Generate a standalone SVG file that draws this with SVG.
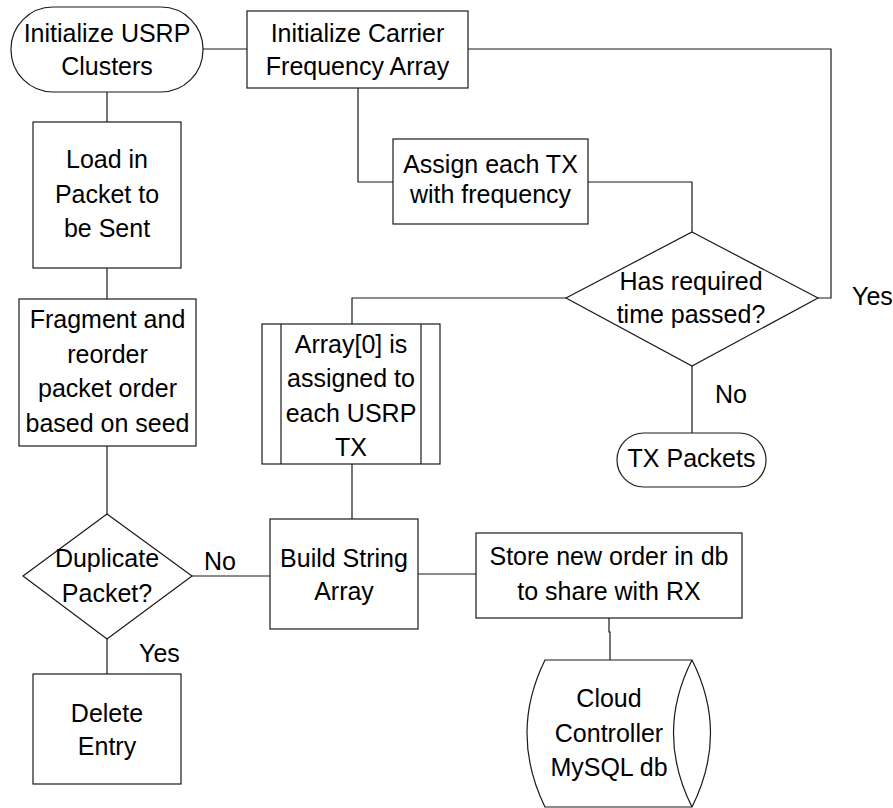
<svg xmlns="http://www.w3.org/2000/svg" width="893" height="808" viewBox="0 0 893 808">
<style>
.s{fill:#fff;stroke:#1a1a1a;stroke-width:1.2}
.c{fill:none;stroke:#1a1a1a;stroke-width:1.2}
text{font-family:"Liberation Sans",Arial,sans-serif;font-size:25px;fill:#000;text-anchor:middle}
.l{text-anchor:start}
</style>
<rect width="893" height="808" fill="#fff"/>
<g id="connectors">
<path class="c" d="M203 49H247"/>
<path class="c" d="M468 49H831V298H818"/>
<path class="c" d="M358 88V182H393"/>
<path class="c" d="M588 182H692V232"/>
<path class="c" d="M566 298H352V324"/>
<path class="c" d="M692 366V433"/>
<path class="c" d="M107 92V122"/>
<path class="c" d="M107 268V299"/>
<path class="c" d="M107 446V514"/>
<path class="c" d="M107 639V674"/>
<path class="c" d="M192 576H270"/>
<path class="c" d="M352 464V519"/>
<path class="c" d="M418 574H476"/>
<path class="c" d="M609 618V632H610V660"/>
</g>
<g id="labels">
<text class="l" x="204" y="570">No</text>
<text class="l" x="715" y="403">No</text>
<text class="l" x="852" y="305">Yes</text>
<text class="l" x="139" y="662">Yes</text>
</g>
<g id="init-usrp">
<rect class="s" x="11" y="7" width="192" height="85" rx="42" ry="42"/>
<text x="107" y="42">Initialize USRP</text>
<text x="107" y="75">Clusters</text>
</g>
<g id="init-carrier">
<rect class="s" x="247" y="11" width="221" height="77"/>
<text x="357.5" y="42">Initialize Carrier</text>
<text x="357.5" y="75">Frequency Array</text>
</g>
<g id="assign">
<rect class="s" x="393" y="139" width="195" height="85"/>
<text x="490.5" y="173">Assign each TX</text>
<text x="490.5" y="203">with frequency</text>
</g>
<g id="has-required">
<polygon class="s" points="692,232 818,298 692,366 566,298"/>
<text x="691" y="290">Has required</text>
<text x="691" y="323">time passed?</text>
</g>
<g id="tx-packets">
<rect class="s" x="617" y="433" width="149" height="54" rx="27" ry="27"/>
<text x="691.5" y="467">TX Packets</text>
</g>
<g id="load">
<rect class="s" x="33" y="122" width="148" height="146"/>
<text x="107" y="168">Load in</text>
<text x="107" y="203">Packet to</text>
<text x="107" y="237">be Sent</text>
</g>
<g id="fragment">
<rect class="s" x="19" y="299" width="177" height="147"/>
<text x="107.5" y="328">Fragment and</text>
<text x="107.5" y="363">reorder</text>
<text x="107.5" y="397">packet order</text>
<text x="107.5" y="432">based on seed</text>
</g>
<g id="array0">
<rect class="s" x="262" y="324" width="178" height="140"/>
<path class="c" d="M281 324V464M421 324V464"/>
<text x="351" y="353">Array[0] is</text>
<text x="351" y="387">assigned to</text>
<text x="351" y="422">each USRP</text>
<text x="351" y="456">TX</text>
</g>
<g id="duplicate">
<polygon class="s" points="107,514 192,576 107,639 23,576"/>
<text x="107" y="567">Duplicate</text>
<text x="107" y="602">Packet?</text>
</g>
<g id="build">
<rect class="s" x="270" y="519" width="148" height="110"/>
<text x="344" y="567">Build String</text>
<text x="344" y="600">Array</text>
</g>
<g id="store">
<rect class="s" x="476" y="533" width="266" height="85"/>
<text x="609" y="565">Store new order in db</text>
<text x="609" y="600">to share with RX</text>
</g>
<g id="delete">
<rect class="s" x="33" y="674" width="148" height="110"/>
<text x="107" y="722">Delete</text>
<text x="107" y="755">Entry</text>
</g>
<g id="cloud-db">
<path class="s" d="M545 660H692Q729 733 692 807H545Q509 733 545 660Z"/>
<path class="c" d="M692 660Q655 733 692 807"/>
<text x="609" y="707">Cloud</text>
<text x="609" y="742">Controller</text>
<text x="609" y="776">MySQL db</text>
</g>
</svg>
